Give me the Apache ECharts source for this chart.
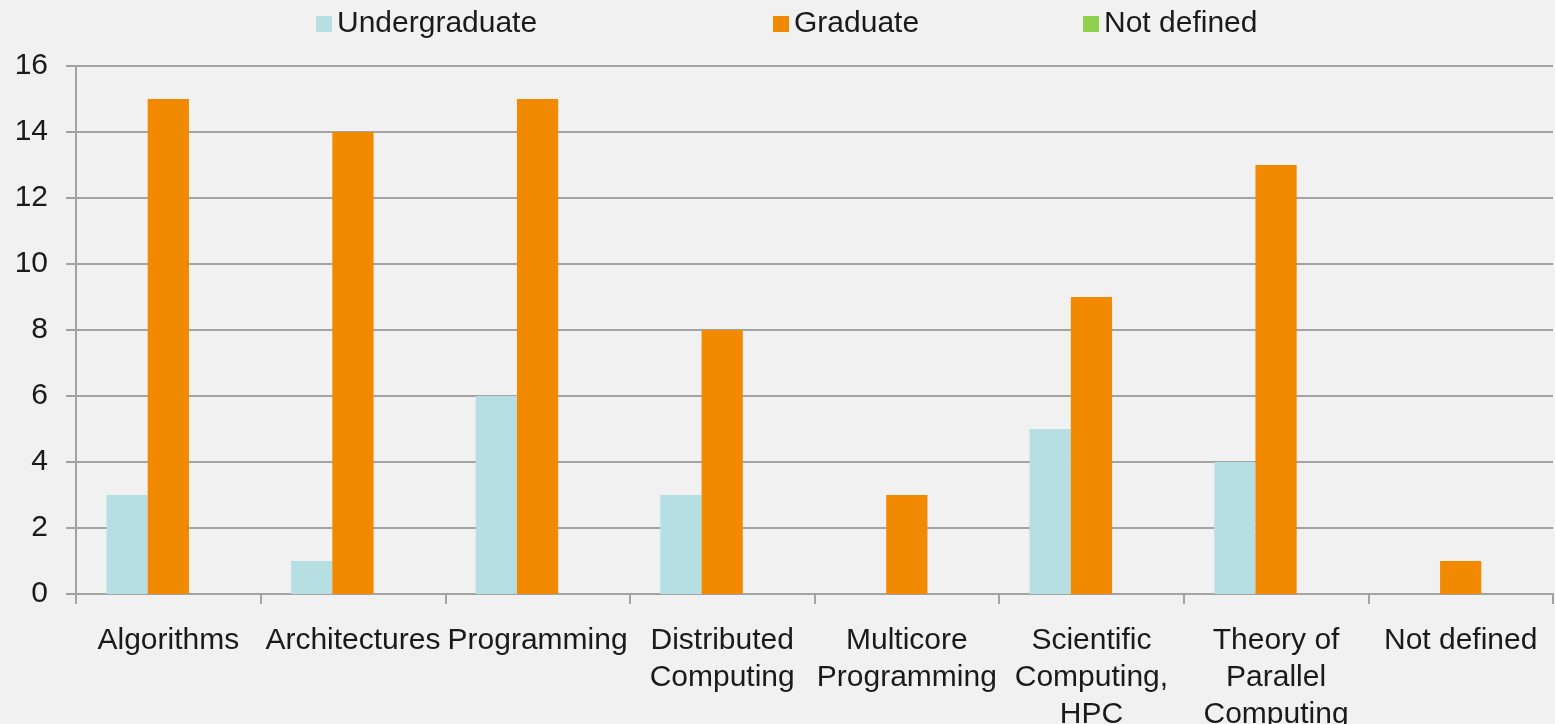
<!DOCTYPE html>
<html>
<head>
<meta charset="utf-8">
<script src="https://cdn.jsdelivr.net/npm/echarts@6/dist/echarts.min.js"></script>
<style>
  html, body { margin: 0; padding: 0; background: #f1f1f1; overflow: hidden; }
  #chart { width: 1555px; height: 724px; }
</style>
</head>
<body>
<div id="chart"></div>
<script>
// Course topics by level
const categories = [
  'Algorithms',
  'Architectures',
  'Programming',
  'Distributed\nComputing',
  'Multicore\nProgramming',
  'Scientific\nComputing,\nHPC',
  'Theory of\nParallel\nComputing',
  'Not defined'
];
const undergraduate = [3, 1, 6, 3, 0, 5, 4, 0];
const graduate = [15, 14, 15, 8, 3, 9, 13, 1];
const notDefined = [0, 0, 0, 0, 0, 0, 0, 0];
const yTicks = { min: 0, max: 16, interval: 2 };

const colors = { undergraduate: '#b5dfe3', graduate: '#f18a00', notDefined: '#8fd14f' };
const FONT = 'Liberation Sans, Arial, sans-serif';
const textColor = '#1a1a1a';
const gridColor = '#a3a3a3';

function legendAt(name, left) {
  return {
    data: [name], left: left, top: 9, padding: 0,
    itemWidth: 16, itemHeight: 16, icon: 'rect', itemGap: 0,
    textStyle: { fontFamily: FONT, fontSize: 30, color: textColor }
  };
}

const chart = echarts.init(document.getElementById('chart'));
chart.setOption({
  backgroundColor: '#f1f1f1',
  animation: false,
  legend: [
    legendAt('Undergraduate', 316),
    legendAt('Graduate', 773),
    legendAt('Not defined', 1083)
  ],
  grid: { left: 76, right: 2, top: 66, bottom: 130, containLabel: false, outerBoundsMode: 'none' },
  xAxis: {
    type: 'category',
    data: categories,
    axisLine: { lineStyle: { color: gridColor, width: 2 } },
    axisTick: { show: true, length: 10, alignWithLabel: false, lineStyle: { color: gridColor, width: 2 } },
    axisLabel: {
      interval: 0, margin: 28, fontFamily: FONT, fontSize: 30, lineHeight: 37,
      color: textColor, align: 'center'
    }
  },
  yAxis: {
    type: 'value',
    min: yTicks.min, max: yTicks.max, interval: yTicks.interval,
    axisLine: { show: true, lineStyle: { color: gridColor, width: 2 } },
    axisTick: { show: true, length: 10, lineStyle: { color: gridColor, width: 2 } },
    splitLine: { show: true, lineStyle: { color: gridColor, width: 2 } },
    axisLabel: { margin: 28, fontFamily: FONT, fontSize: 30, color: textColor }
  },
  series: [
    { name: 'Undergraduate', type: 'bar', data: undergraduate, itemStyle: { color: colors.undergraduate },
      barGap: '0%', barCategoryGap: '33%' },
    { name: 'Graduate', type: 'bar', data: graduate, itemStyle: { color: colors.graduate },
      barGap: '0%', barCategoryGap: '33%' },
    { name: 'Not defined', type: 'bar', data: notDefined, itemStyle: { color: colors.notDefined },
      barGap: '0%', barCategoryGap: '33%' }
  ]
});
</script>
</body>
</html>
